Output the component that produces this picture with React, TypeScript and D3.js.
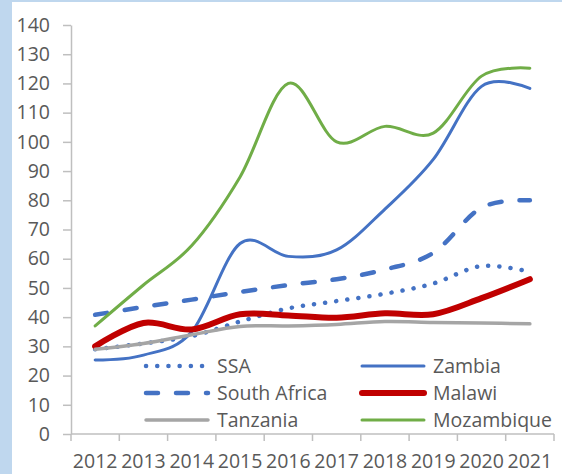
import React, { useEffect, useRef } from 'react';
import * as d3 from 'd3';

const years = ['2012', '2013', '2014', '2015', '2016', '2017', '2018', '2019', '2020', '2021'];
const yTicks = [0, 10, 20, 30, 40, 50, 60, 70, 80, 90, 100, 110, 120, 130, 140];

const ssa = [29, 31, 33.5, 38.5, 43, 45.5, 48, 51.5, 57.5, 55.5];
const zambia = [25.3, 27, 35, 65.2, 60.8, 63, 77, 94, 119, 118.3];
const southAfrica = [40.8, 43.5, 46, 48.6, 51, 53, 56.3, 62, 77.5, 80];
const malawi = [30, 38, 35.8, 41, 40.6, 39.8, 41.3, 41, 46.5, 53];
const tanzania = [29, 31, 34, 36.8, 37, 37.5, 38.5, 38.2, 38, 37.7];
const mozambique = [37, 51, 64.5, 88, 120, 100, 105.3, 103, 122.5, 125.2];

const seriesNames = ['SSA', 'Zambia', 'South Africa', 'Malawi', 'Tanzania', 'Mozambique'];

export default function App() {
  const svgRef = useRef<SVGSVGElement>(null);

  useEffect(() => {
    if (!svgRef.current) return;
    const svg = d3.select(svgRef.current);
    svg.selectAll('*').remove();

    const width = 562;
    const height = 474;
    const textColor = '#595959';
    const axisColor = '#bfbfbf';
    const font = '"Open Sans", sans-serif';

    // light blue frame, white panel
    svg.append('rect').attr('width', width).attr('height', height).attr('fill', '#bfd7ee');
    svg.append('rect').attr('x', 12).attr('y', 2).attr('width', width - 12).attr('height', height - 2).attr('fill', '#ffffff');

    const x = d3.scaleBand().domain(years).range([71, 554]);
    const y = d3.scaleLinear().domain([0, 140]).range([434, 25]);
    const cx = (d: string) => (x(d) as number) + x.bandwidth() / 2;

    // Y axis
    const yAxis = svg.append('g')
      .attr('transform', `translate(${x.range()[0]},0)`)
      .call(d3.axisLeft(y).tickValues(yTicks).tickSize(8).tickSizeOuter(0).tickPadding(13));
    yAxis.select('.domain').attr('stroke', axisColor).attr('stroke-width', 1.5);
    yAxis.selectAll('.tick line').attr('stroke', axisColor).attr('stroke-width', 1.5);
    yAxis.selectAll('.tick text').attr('fill', textColor).attr('font-size', '19.5px').attr('font-family', font);

    // X axis
    const xr = x.range();
    svg.append('line').attr('x1', xr[0]).attr('x2', xr[1]).attr('y1', y(0)).attr('y2', y(0))
      .attr('stroke', axisColor).attr('stroke-width', 1.5);
    const bounds = years.map(d => x(d) as number).concat([xr[1]]);
    svg.selectAll('.xtick').data(bounds).enter().append('line')
      .attr('x1', d => d).attr('x2', d => d).attr('y1', y(0)).attr('y2', y(0) + 7)
      .attr('stroke', axisColor).attr('stroke-width', 1.5);
    svg.selectAll('.xlabel').data(years).enter().append('text')
      .attr('x', d => cx(d)).attr('y', 468).attr('text-anchor', 'middle')
      .attr('fill', textColor).attr('font-size', '19.5px').attr('font-family', font)
      .text(d => d);

    const styles: Record<string, { color: string; width: number; dash?: string; cap?: string }> = {
      'SSA': { color: '#4472c4', width: 4.5, dash: '0.1 11.1', cap: 'round' },
      'Zambia': { color: '#4472c4', width: 3 },
      'South Africa': { color: '#4472c4', width: 4.5, dash: '12 18', cap: 'round' },
      'Malawi': { color: '#c00000', width: 6 },
      'Tanzania': { color: '#a5a5a5', width: 3.5 },
      'Mozambique': { color: '#70ad47', width: 3 },
    };
    const values: Record<string, number[]> = {
      'SSA': ssa, 'Zambia': zambia, 'South Africa': southAfrica,
      'Malawi': malawi, 'Tanzania': tanzania, 'Mozambique': mozambique,
    };

    const line = d3.line<number>()
      .x((_, i) => cx(years[i]))
      .y(d => y(d))
      .curve(d3.curveCatmullRom.alpha(0));

    seriesNames.forEach(name => {
      const s = styles[name];
      svg.append('path')
        .attr('d', line(values[name]))
        .attr('fill', 'none')
        .attr('stroke', s.color)
        .attr('stroke-width', s.width)
        .attr('stroke-linecap', s.cap || 'round')
        .attr('stroke-linejoin', 'round')
        .attr('stroke-dasharray', s.dash || null);
    });

    // Legend
    const legendCols = [146, 362];
    const legendRows = [366, 393, 420];
    seriesNames.forEach((name, i) => {
      const s = styles[name];
      const lx = legendCols[i % 2];
      const ly = legendRows[Math.floor(i / 2)];
      svg.append('line')
        .attr('x1', lx).attr('x2', lx + 62).attr('y1', ly).attr('y2', ly)
        .attr('stroke', s.color).attr('stroke-width', s.width)
        .attr('stroke-linecap', s.cap || 'round')
        .attr('stroke-dasharray', s.dash || null);
      svg.append('text')
        .attr('x', lx + 71).attr('y', ly).attr('dy', '0.35em')
        .attr('fill', textColor).attr('font-size', '19.5px').attr('font-family', font)
        .text(name);
    });
  }, []);

  return (
    <>
      <style>{'body{margin:0}'}</style>
      <svg ref={svgRef} width={562} height={474} viewBox="0 0 562 474" style={{ display: 'block' }}></svg>
    </>
  );
}
